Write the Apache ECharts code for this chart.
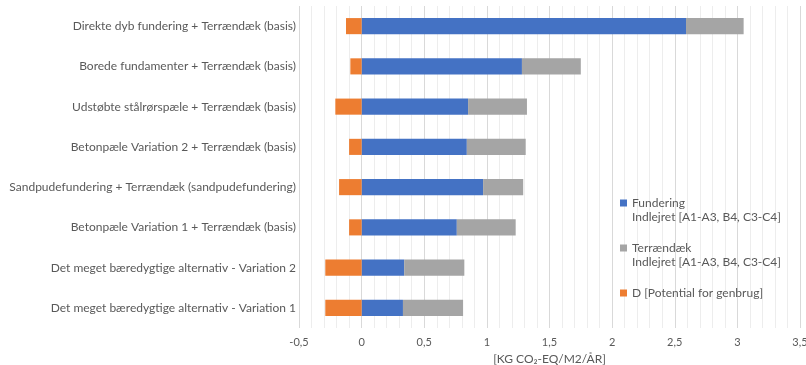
<!DOCTYPE html>
<html>
<head>
<meta charset="utf-8">
<script src="https://cdn.jsdelivr.net/npm/echarts@6/dist/echarts.min.js"></script>
<style>
  html, body { margin: 0; padding: 0; background: #fff; }
  #chart { width: 806px; height: 365px; }
</style>
</head>
<body>
<div id="chart"></div>
<script>
var categories = [
    'Direkte dyb fundering + Terrændæk (basis)',
    'Borede fundamenter + Terrændæk (basis)',
    'Udstøbte stålrørspæle + Terrændæk (basis)',
    'Betonpæle Variation 2 + Terrændæk (basis)',
    'Sandpudefundering + Terrændæk (sandpudefundering)',
    'Betonpæle Variation 1 + Terrændæk (basis)',
    'Det meget bæredygtige alternativ - Variation 2',
    'Det meget bæredygtige alternativ - Variation 1'
];
var fundering = [2.59, 1.28, 0.85, 0.84, 0.97, 0.76, 0.34, 0.33];
var terraendaek = [0.46, 0.47, 0.47, 0.47, 0.32, 0.47, 0.48, 0.48];
var potential = [-0.125, -0.09, -0.21, -0.10, -0.18, -0.10, -0.29, -0.29];

var seriesNames = [
    'Fundering\nIndlejret [A1-A3, B4, C3-C4]',
    'Terrændæk\nIndlejret [A1-A3, B4, C3-C4]',
    'D [Potential for genbrug]'
];

var textColor = '#595959';
var font = 'Lato';

var chart = echarts.init(document.getElementById('chart'));

chart.setOption({
    animation: false,
    color: ['#4472C4', '#A5A5A5', '#ED7D31'],
    textStyle: { fontFamily: font },
    grid: { left: 299, right: 6, top: 6, bottom: 37, containLabel: false, outerBoundsMode: 'none' },
    legend: {
        orient: 'vertical',
        left: 615,
        top: 177,
        itemWidth: 7,
        itemHeight: 7,
        itemGap: 3,
        icon: 'rect',
        textStyle: { color: textColor, fontSize: 12, fontFamily: font, lineHeight: 14 },
        // blank lines keep the marker beside the first line of each entry
        formatter: function (name) {
            return '\n' + name + (name.indexOf('\n') < 0 ? '\n' : '');
        },
        data: seriesNames
    },
    xAxis: {
        type: 'value',
        min: -0.5,
        max: 3.5,
        interval: 0.5,
        name: '[KG CO₂-EQ/M2/ÅR]',
        nameLocation: 'middle',
        nameGap: 18,
        nameTextStyle: { color: textColor, fontSize: 12, fontFamily: font },
        axisLine: { show: false },
        axisTick: { show: false },
        axisLabel: {
            color: textColor,
            fontSize: 11,
            fontFamily: font,
            margin: 9,
            formatter: function (v) { return String(v).replace('.', ','); }
        },
        splitLine: { show: true, lineStyle: { color: '#d9d9d9', width: 1 } },
        minorTick: { show: false, splitNumber: 5 },
        minorSplitLine: { show: true, lineStyle: { color: '#ededed', width: 1 } }
    },
    yAxis: {
        type: 'category',
        inverse: true,
        data: categories,
        axisLine: { show: false },
        axisTick: { show: false },
        axisLabel: { color: textColor, fontSize: 12, fontFamily: font, margin: 3 }
    },
    series: [
        {
            name: seriesNames[0],
            type: 'bar',
            stack: 'total',
            barWidth: '40%',
            data: fundering
        },
        {
            name: seriesNames[1],
            type: 'bar',
            stack: 'total',
            barWidth: '40%',
            data: terraendaek
        },
        {
            name: seriesNames[2],
            type: 'bar',
            stack: 'total',
            barWidth: '40%',
            data: potential
        }
    ]
});
</script>
</body>
</html>
